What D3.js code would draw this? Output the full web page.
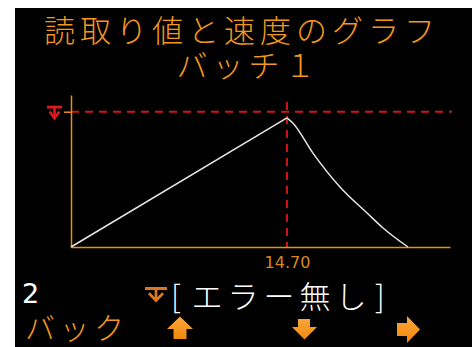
<!DOCTYPE html>
<html><head><meta charset="utf-8">
<script src="https://cdn.jsdelivr.net/npm/d3@7"></script>
<style>body{margin:0;background:#fff;overflow:hidden} svg{display:block}</style>
</head><body><svg id="c" width="472" height="347"></svg>
<script>
// ---- data ----
const titleText = "読取り値と速度のグラフ";
const subtitleText = "バッチ１";
const timeValues  = [0, 14.70, 15.10, 16.47, 18.31, 20.15, 21.24, 22.94];
const speedValues = [0, 85.0, 81.6, 61.8, 39.5, 22.4, 12.5, 0];
const xTickValues = [14.70];
const thresholdValue = 89;
const peakTime = 14.70;
const xDomain = [0, 25.8];
const yDomain = [0, 100];
const batchNumber = "2";
const statusText = "[エラー無し]";
const backLabel = "バック";

// ---- setup ----
const svg = d3.select("#c");
svg.append("rect").attr("x", 15).attr("y", 8).attr("width", 457).attr("height", 339).attr("fill", "#000");

const ORANGE = "#f5971f", AXIS = "#e88f16", RED = "#d01515", CJK = "'Noto Sans CJK JP', sans-serif";

function monoText(str, startX, pitch, baseline, size, color, pitches) {
  const chars = Array.from(str);
  let xs = [], cx = startX;
  chars.forEach((c, i) => { xs.push(cx); cx += (pitches ? pitches[i] : pitch); });
  svg.append("text").attr("x", xs.join(" ")).attr("y", baseline)
    .attr("text-anchor", "middle").attr("font-family", CJK).attr("font-weight", 300)
    .attr("font-size", size).attr("fill", color).text(str);
}

monoText(titleText, 59.5, 36, 42, 31, ORANGE);
monoText(subtitleText, 192, 36, 77, 31, ORANGE);

// ---- chart ----
const x = d3.scaleLinear().domain(xDomain).range([71, 450]);
const y = d3.scaleLinear().domain(yDomain).range([247, 95]);

// dashed guides
svg.append("line").attr("x1", x(0)).attr("x2", 452).attr("y1", y(thresholdValue)).attr("y2", y(thresholdValue))
  .attr("stroke", RED).attr("stroke-width", 2).attr("stroke-dasharray", "8,6");
svg.append("line").attr("x1", x(peakTime)).attr("x2", x(peakTime)).attr("y1", 102).attr("y2", y(0))
  .attr("stroke", RED).attr("stroke-width", 2).attr("stroke-dasharray", "8,6");

// axes
const yAxis = svg.append("g").attr("transform", `translate(${x(0)},0)`)
  .call(d3.axisLeft(y).tickValues([thresholdValue]).tickSize(7).tickSizeOuter(0).tickFormat(""));
yAxis.selectAll("path,line").attr("stroke", AXIS).attr("stroke-width", 1.5);

const xAxis = svg.append("g").attr("transform", `translate(0,${y(0)})`)
  .call(d3.axisBottom(x).tickValues(xTickValues).tickSize(0).tickSizeOuter(0).tickFormat(d3.format(".2f")));
xAxis.selectAll("path,line").attr("stroke", AXIS).attr("stroke-width", 1.5);
xAxis.selectAll("text").attr("y", 21).attr("dy", null).attr("fill", "#d8861c")
  .attr("font-family", "'DejaVu Sans', sans-serif").attr("font-size", 16);

// data line: linear acceleration phase, smooth deceleration phase
const pts = timeValues.map((t, i) => [t, speedValues[i]]);
const peakIdx = timeValues.indexOf(peakTime);
const segs = [
  { data: pts.slice(0, peakIdx + 1), curve: d3.curveLinear },
  { data: pts.slice(peakIdx), curve: d3.curveMonotoneX }
];
svg.selectAll("path.series").data(segs).join("path").attr("class", "series")
  .attr("d", s => d3.line().x(d => x(d[0])).y(d => y(d[1])).curve(s.curve)(s.data))
  .attr("fill", "none").attr("stroke", "#e6e6e6").attr("stroke-width", 1.5).attr("stroke-linejoin", "round");

// limit icons
function limitIcon(cx, top, w, h, color, sw) {
  const g = svg.append("g");
  const t = Math.max(2.5, h * 0.2);
  g.append("rect").attr("x", cx - w / 2).attr("y", top).attr("width", w).attr("height", t).attr("fill", color);
  g.append("line").attr("x1", cx).attr("x2", cx).attr("y1", top).attr("y2", top + h - 1).attr("stroke", color).attr("stroke-width", sw);
  g.append("path").attr("d", `M${cx - w * 0.32},${top + h * 0.42} L${cx},${top + h - 1.5} L${cx + w * 0.32},${top + h * 0.42}`)
    .attr("fill", "none").attr("stroke", color).attr("stroke-width", sw);
}
limitIcon(54.5, y(thresholdValue) - 6, 15, 14, "#e01a1a", 2.6);
limitIcon(156, 287, 22, 15, "#d9781e", 2.8);

// ---- bottom status ----
svg.append("text").attr("x", 22).attr("y", 303).attr("font-family", "'DejaVu Sans', sans-serif")
  .attr("font-size", 27).attr("fill", "#fff").text(batchNumber);
monoText(statusText, 176, 36, 308, 31, "#fff", [31, 36, 36, 36, 36, 29, 0]);
monoText(backLabel, 40, 34.5, 338.5, 30, ORANGE);

// arrows
const arrowGrad = svg.append("defs").append("linearGradient").attr("id", "ag").attr("x1", 0).attr("x2", 0).attr("y1", 0).attr("y2", 1);
arrowGrad.append("stop").attr("offset", "0%").attr("stop-color", "#fba63a");
arrowGrad.append("stop").attr("offset", "100%").attr("stop-color", "#f0890f");
const arrows = [
  "M167,329 L180,316.5 L193,329 L186.5,329 L186.5,339 L173.5,339 L173.5,329 Z",
  "M298,319 L310,319 L310,327 L317,327 L304.5,339.5 L292,327 L298,327 Z",
  "M397,323 L407,323 L407,316 L420,329.5 L407,343 L407,336 L397,336 Z"
];
svg.selectAll("path.arrow").data(arrows).join("path").attr("class", "arrow").attr("d", d => d).attr("fill", "url(#ag)");
</script></body></html>
